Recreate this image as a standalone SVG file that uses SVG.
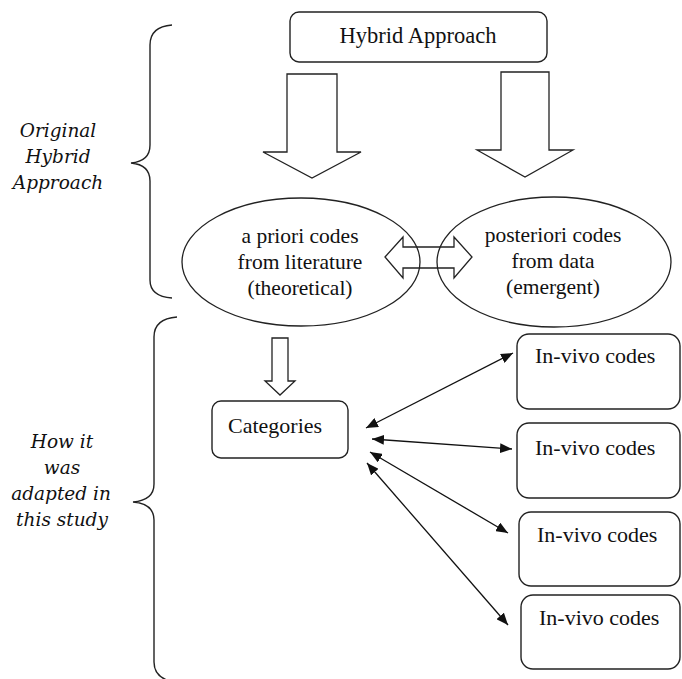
<svg xmlns="http://www.w3.org/2000/svg" width="682" height="679" viewBox="0 0 682 679">
  <style>
    .box { fill: #fff; stroke: #222; stroke-width: 1.4; }
    .outline { fill: #fff; stroke: #222; stroke-width: 1.3; stroke-linejoin: miter; }
    .oval { fill: none; stroke: #222; stroke-width: 1.3; }
    .brace { fill: none; stroke: #222; stroke-width: 1.4; }
    .link { fill: none; stroke: #111; stroke-width: 1.3; }
    .t { font-family: "Liberation Serif", "Times New Roman", serif; font-size: 22px; fill: #111; }
    .c { text-anchor: middle; }
    .lab { font-family: "DejaVu Serif", "Liberation Serif", serif; font-size: 18.5px; font-style: italic; fill: #111; text-anchor: middle; }
  </style>
  <defs>
    <marker id="tip" viewBox="0 0 12 10" refX="12" refY="5" markerWidth="12" markerHeight="10" markerUnits="userSpaceOnUse" orient="auto-start-reverse">
      <path d="M0,0 L12,5 L0,10 z" fill="#111"/>
    </marker>
  </defs>

  <rect width="682" height="679" fill="#fff"/>

  <!-- side braces and their labels -->
  <g id="brace-original">
    <path class="brace" d="M172,25 C158,26 150,32 150,45 L150,145 C150,157 142,162 131,163 C142,164 150,169 150,181 L150,280 C150,292 158,297 172,298"/>
    <text class="lab" x="58" y="137">Original</text>
    <text class="lab" x="58" y="163">Hybrid</text>
    <text class="lab" x="58" y="189">Approach</text>
  </g>
  <g id="brace-adapted">
    <path class="brace" d="M177,317 C163,318 154,324 154,337 L154,484 C154,496 145,501 133,502 C145,503 154,508 154,520 L154,662 C154,674 163,680 174,682"/>
    <text class="lab" x="62" y="448">How it</text>
    <text class="lab" x="62" y="474">was</text>
    <text class="lab" x="61" y="500">adapted in</text>
    <text class="lab" x="62" y="526">this study</text>
  </g>

  <!-- top node -->
  <g id="hybrid">
    <rect class="box" x="290" y="12" width="257" height="50" rx="9"/>
    <text class="t c" x="418" y="43" style="font-size:22.5px">Hybrid Approach</text>
  </g>

  <!-- block arrows -->
  <g id="block-arrows">
    <path class="outline" d="M287,74 L337,74 L337,152 L361,152 L312,178 L263,152 L287,152 Z"/>
    <path class="outline" d="M501,72 L549,72 L549,150 L573,150 L525,177 L477,150 L501,150 Z"/>
    <path class="outline" d="M385,257 L403,237 L403,247 L454,247 L454,237 L472,257 L454,278 L454,268 L403,268 L403,278 Z"/>
    <path class="outline" d="M272,338 L288,338 L288,381 L295,381 L280,395 L265,381 L272,381 Z"/>
  </g>

  <!-- code ovals -->
  <g id="apriori">
    <ellipse class="oval" cx="301" cy="262" rx="119" ry="64"/>
    <text class="t c" x="300" y="243" style="font-size:21.5px">a priori codes</text>
    <text class="t c" x="300" y="269" style="font-size:21.5px">from literature</text>
    <text class="t c" x="300" y="295" style="font-size:21.5px">(theoretical)</text>
  </g>
  <g id="posteriori">
    <ellipse class="oval" cx="554" cy="262" rx="117" ry="65"/>
    <text class="t c" x="553" y="242" style="font-size:21.5px">posteriori codes</text>
    <text class="t c" x="553" y="268" style="font-size:21.5px">from data</text>
    <text class="t c" x="553" y="294" style="font-size:21.5px">(emergent)</text>
  </g>

  <!-- categories -->
  <g id="categories">
    <rect class="box" x="212" y="401" width="136" height="57" rx="9"/>
    <text class="t" x="228" y="433">Categories</text>
  </g>

  <!-- in-vivo code boxes -->
  <g id="invivo-1">
    <rect class="box" x="517" y="334" width="163" height="75" rx="12"/>
    <text class="t" x="535" y="363">In-vivo codes</text>
  </g>
  <g id="invivo-2">
    <rect class="box" x="517" y="423" width="163" height="75" rx="12"/>
    <text class="t" x="535" y="455">In-vivo codes</text>
  </g>
  <g id="invivo-3">
    <rect class="box" x="519" y="512" width="161" height="74" rx="12"/>
    <text class="t" x="537" y="542">In-vivo codes</text>
  </g>
  <g id="invivo-4">
    <rect class="box" x="521" y="595" width="159" height="74" rx="12"/>
    <text class="t" x="539" y="625">In-vivo codes</text>
  </g>

  <!-- two-way links between categories and in-vivo codes -->
  <g id="connectors">
    <line class="link" x1="366" y1="428" x2="513" y2="353" marker-start="url(#tip)" marker-end="url(#tip)"/>
    <line class="link" x1="372" y1="439" x2="512" y2="449" marker-start="url(#tip)" marker-end="url(#tip)"/>
    <line class="link" x1="370" y1="452" x2="508" y2="533" marker-start="url(#tip)" marker-end="url(#tip)"/>
    <line class="link" x1="367" y1="463" x2="508" y2="625" marker-start="url(#tip)" marker-end="url(#tip)"/>
  </g>
</svg>
